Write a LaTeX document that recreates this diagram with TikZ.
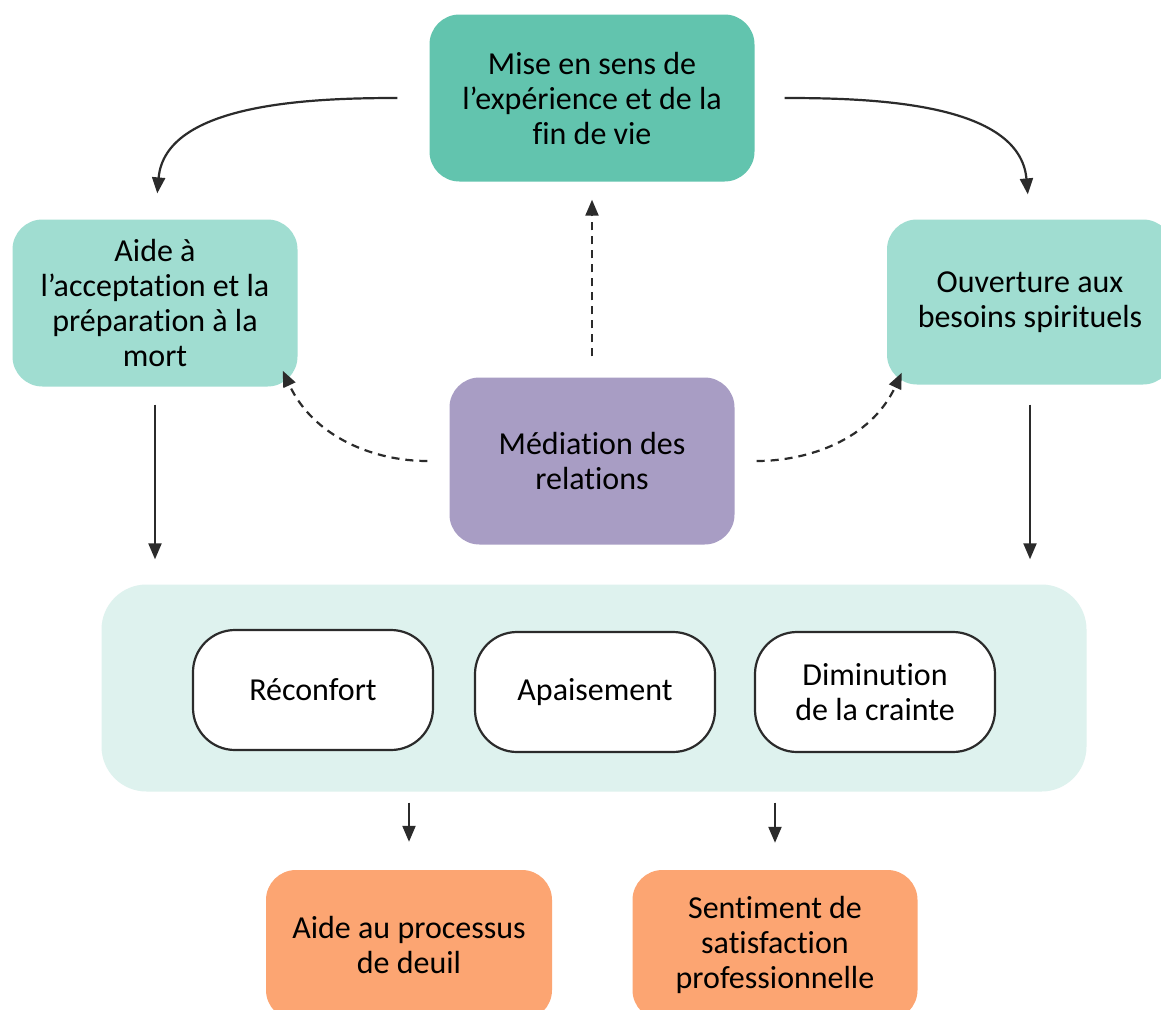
\documentclass[tikz,border=0pt]{standalone}
\usepackage{fontspec}
\setmainfont{Carlito}[Ligatures={NoCommon}]
\usetikzlibrary{arrows.meta}
\definecolor{tealD}{HTML}{62C4AE}
\definecolor{tealL}{HTML}{A0DDD1}
\definecolor{purp}{HTML}{A89DC4}
\definecolor{bgc}{HTML}{DEF2EE}
\definecolor{orng}{HTML}{FCA572}
\definecolor{ink}{HTML}{2B2B2B}
\tikzset{
  box/.style={rounded corners=30pt, align=center, inner sep=0pt, text=black,
    font=\fontsize{32}{35}\selectfont},
  pill/.style={box, draw=ink, line width=2.2pt, fill=white, rounded corners=42pt,
    minimum width=240pt, minimum height=120pt},
  conn/.style={draw=ink, line width=2.2pt, -{Triangle[length=16pt,width=13pt]}},
  dconn/.style={conn, dash pattern=on 8pt off 6pt}
}
\begin{document}
\begin{tikzpicture}[x=1pt,y=-1pt]
\useasboundingbox (0,0) rectangle (1161,1009);
\fill[white] (0,0) rectangle (1161,1009);
% boxes
\node[box, fill=tealD, minimum width=325pt, minimum height=167pt] (top) at (592,98)
  {Mise en sens de\\l’expérience et de la\\fin de vie};
\node[box, fill=tealL, minimum width=285pt, minimum height=167pt] (left) at (155,303)
  {Aide à\\l’acceptation et la\\préparation à la\\mort};
\node[box, fill=tealL, minimum width=286pt, minimum height=165pt] (right) at (1030,302)
  {Ouverture aux\\besoins spirituels};
\node[box, fill=purp, minimum width=285pt, minimum height=167pt] (mid) at (592,461)
  {Médiation des\\relations};
\node[box, fill=bgc, rounded corners=45pt, minimum width=985pt, minimum height=207pt] (bg) at (594,688) {};
\node[pill] (r1) at (313,690) {Réconfort};
\node[pill] (r2) at (595,692) {Apaisement};
\node[pill] (r3) at (875,692) {Diminution\\de la crainte};
\node[box, fill=orng, minimum width=286pt, minimum height=150pt] (o1) at (409,945)
  {Aide au processus\\de deuil};
\node[box, fill=orng, minimum width=285pt, minimum height=150pt] (o2) at (775,945)
  {Sentiment de\\satisfaction\\professionnelle};
% connectors
\draw[conn, shorten <=32pt, shorten >=26pt] (top.west) to[out=180,in=85] (left.north);
\draw[conn, shorten <=30pt, shorten >=25pt] (top.east) to[out=0,in=95] (right.north);
\draw[dconn, shorten <=21pt, shorten >=18pt] (mid.north) -- (top.south);
\coordinate (lt) at ([shift={(-15pt,16pt)}]left.south east);
\coordinate (rt) at ([shift={(15pt,12pt)}]right.south west);
\draw[dconn, shorten <=22pt] (mid.west) to[out=180,in=-65] (lt);
\draw[dconn, shorten <=22pt] (mid.east) to[out=0,in=-115] (rt);
\draw[conn, shorten <=18pt, shorten >=25pt] (left.south) -- (left.south |- bg.north);
\draw[conn, shorten <=20pt, shorten >=25pt] (right.south) -- (right.south |- bg.north);
\draw[conn, shorten <=11pt, shorten >=28pt] (o1.north |- bg.south) -- (o1.north);
\draw[conn, shorten <=11pt, shorten >=27pt] (o2.north |- bg.south) -- (o2.north);
\end{tikzpicture}
\end{document}
